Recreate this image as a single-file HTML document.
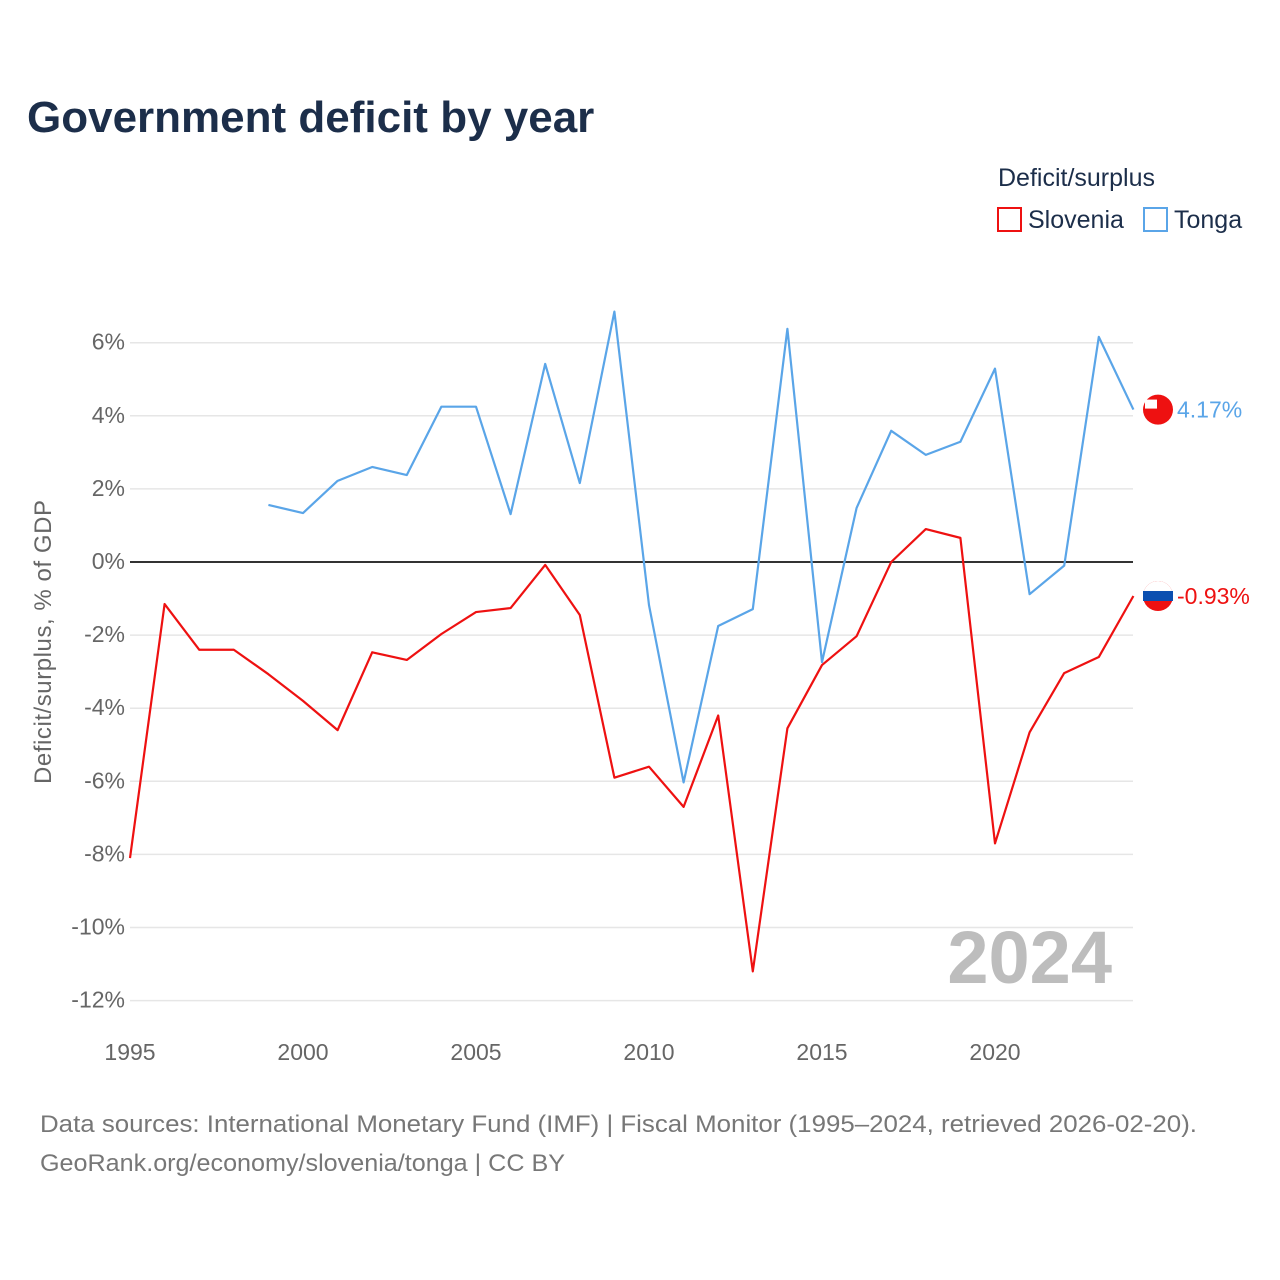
<!DOCTYPE html>
<html><head><meta charset="utf-8"><style>
body{margin:0;background:#fff;font-family:"Liberation Sans",sans-serif}
</style></head><body>
<svg id="chart" width="1280" height="1280" xmlns="http://www.w3.org/2000/svg" style="display:block">
<rect width="1280" height="1280" fill="#fff"/>
<text x="27" y="132" font-size="44" font-weight="bold" fill="#1c2e4a">Government deficit by year</text>
<text x="998" y="186" font-size="25" fill="#1c2e4a">Deficit/surplus</text>
<g><rect x="998" y="208" width="23" height="23" fill="none" stroke="#ee1111" stroke-width="2"/><text x="1028" y="228" font-size="25" fill="#1c2e4a">Slovenia</text></g>
<g><rect x="1144" y="208" width="23" height="23" fill="none" stroke="#5aa5e8" stroke-width="2"/><text x="1174" y="228" font-size="25" fill="#1c2e4a">Tonga</text></g>
<g id="grid"></g><g id="yt"></g><g id="xt"></g>
<text transform="translate(51,642) rotate(-90)" text-anchor="middle" font-size="24" fill="#666" textLength="284">Deficit/surplus, % of GDP</text>
<text x="1112" y="983" text-anchor="end" font-size="74" font-weight="bold" fill="#bdbdbd">2024</text>
<g id="series"></g>
<text x="40" y="1132" font-size="24" fill="#777" textLength="1157" lengthAdjust="spacingAndGlyphs">Data sources: International Monetary Fund (IMF) | Fiscal Monitor (1995–2024, retrieved 2026-02-20).</text>
<text x="40" y="1171" font-size="24" fill="#777" textLength="525" lengthAdjust="spacingAndGlyphs">GeoRank.org/economy/slovenia/tonga | CC BY</text>
</svg>
<script>
const years=[];for(let y=1995;y<=2024;y++)years.push(y);
const slovenia=[-8.1,-1.15,-2.4,-2.4,-3.07,-3.8,-4.6,-2.47,-2.68,-1.97,-1.37,-1.26,-0.08,-1.45,-5.9,-5.6,-6.7,-4.2,-11.2,-4.55,-2.82,-2.03,0.0,0.9,0.66,-7.7,-4.66,-3.04,-2.6,-0.93];
const tonga=[null,null,null,null,1.56,1.34,2.22,2.6,2.38,4.25,4.25,1.31,5.42,2.16,6.85,-1.18,-6.03,-1.75,-1.29,6.38,-2.74,1.48,3.59,2.93,3.29,5.29,-0.88,-0.1,6.16,4.17];
const yTicks=[6,4,2,0,-2,-4,-6,-8,-10,-12];
const xTicks=[1995,2000,2005,2010,2015,2020];
const NS="http://www.w3.org/2000/svg";
const X=y=>130+(y-1995)*34.6, Y=v=>562-v*36.55;
function mk(t,a,p){const e=document.createElementNS(NS,t);for(const k in a)e.setAttribute(k,a[k]);p.appendChild(e);return e;}
const grid=document.getElementById('grid'),yt=document.getElementById('yt'),xt=document.getElementById('xt'),ser=document.getElementById('series');
yTicks.forEach(v=>{
 const l=mk('line',{x1:130,x2:1133,y1:Y(v),y2:Y(v),stroke:v===0?'#333':'#e6e6e6','stroke-width':v===0?2:1.5},grid);
 
 
 const t=mk('text',{x:125,y:Y(v)+7,'text-anchor':'end','font-size':23,fill:'#666'},yt);t.textContent=v+'%';
 
 
});
xTicks.forEach(y=>{
 const t=mk('text',{x:X(y),y:1060,'text-anchor':'middle','font-size':23,fill:'#666'},xt);t.textContent=y;
 
 
});
function line(data,color,name){
 let d='';data.forEach((v,i)=>{if(v===null)return;d+=(d?'L':'M')+X(years[i])+','+Y(v);});
 const p=mk('path',{d:d,fill:'none',stroke:color,'stroke-width':2.2,'stroke-linejoin':'round'},ser);
 
 
 const last=data[data.length-1],cx=1158,cy=Y(last);
 const c=mk('circle',{cx:cx,cy:cy,r:15,fill:'#ee1111'},ser);
 
 
 if(name==='slovenia'){mk('path',{d:`M${cx-15},${cy}A15,15 0 0 1 ${cx+15},${cy}Z`,fill:'#fff'},ser);mk('rect',{x:cx-15,y:cy-5,width:30,height:10,fill:'#0b4fb0'},ser);}
 else{mk('rect',{x:cx-13,y:cy-10,width:12,height:9,fill:'#fff'},ser);}
 const t=mk('text',{x:1177,y:cy+8,'font-size':23,fill:color},ser);t.textContent=last.toFixed(2)+'%';
 
 
}
line(tonga,'#5aa5e8','tonga');
line(slovenia,'#ee1111','slovenia');
</script>
</body></html>
